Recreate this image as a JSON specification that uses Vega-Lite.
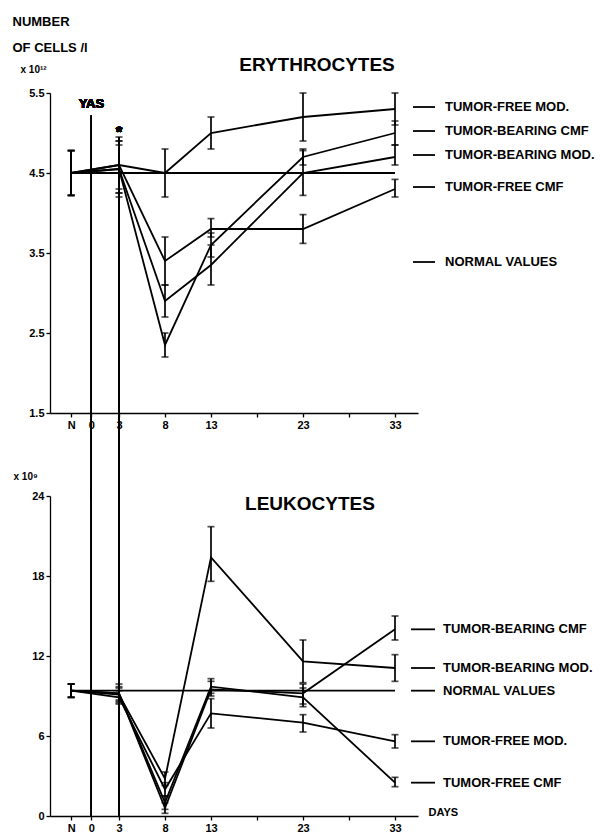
{
  "$schema": "https://vega.github.io/schema/vega-lite/v6.json",
  "background": "white",
  "autosize": {"type": "pad"},
  "padding": {"left": 12, "top": 15, "right": 5, "bottom": 2},
  "bounds": "flush",
  "spacing": 83,
  "config": {
    "font": "Liberation Sans",
    "view": {"stroke": null},
    "axis": {
      "labelFont": "Liberation Sans", "labelFontWeight": "bold", "labelFontSize": 11, "labelColor": "black",
      "domainColor": "black", "domainWidth": 1.3, "tickColor": "black", "tickWidth": 1.3, "tickSize": 4,
      "grid": false, "titleFont": "Liberation Sans", "titleFontWeight": "bold", "titleColor": "black", "labelOverlap": false, "labelFlush": false
    },
    "title": {"color": "black", "fontWeight": "bold", "font": "Liberation Sans"},
    "text": {"font": "Liberation Sans", "fontWeight": "bold", "color": "black"}
  },
  "datasets": {
    "ery": [
      {"series": "TUMOR-FREE MOD.", "day": -2.2, "value": 4.5, "lo": 4.22, "hi": 4.78},
      {"series": "TUMOR-FREE MOD.", "day": 3, "value": 4.6, "lo": 4.3, "hi": 4.9},
      {"series": "TUMOR-FREE MOD.", "day": 8, "value": 4.5, "lo": 4.2, "hi": 4.8},
      {"series": "TUMOR-FREE MOD.", "day": 13, "value": 5.0, "lo": 4.8, "hi": 5.2},
      {"series": "TUMOR-FREE MOD.", "day": 23, "value": 5.2, "lo": 4.9, "hi": 5.5},
      {"series": "TUMOR-FREE MOD.", "day": 33, "value": 5.3, "lo": 5.1, "hi": 5.5},
      {"series": "TUMOR-BEARING CMF", "day": -2.2, "value": 4.5, "lo": 4.22, "hi": 4.78},
      {"series": "TUMOR-BEARING CMF", "day": 3, "value": 4.55, "lo": 4.25, "hi": 4.85},
      {"series": "TUMOR-BEARING CMF", "day": 8, "value": 2.35, "lo": 2.2, "hi": 2.5},
      {"series": "TUMOR-BEARING CMF", "day": 13, "value": 3.6, "lo": 3.45, "hi": 3.75},
      {"series": "TUMOR-BEARING CMF", "day": 23, "value": 4.7, "lo": 4.6, "hi": 4.8},
      {"series": "TUMOR-BEARING CMF", "day": 33, "value": 5.0, "lo": 4.85, "hi": 5.15},
      {"series": "TUMOR-BEARING MOD.", "day": -2.2, "value": 4.5, "lo": 4.22, "hi": 4.78},
      {"series": "TUMOR-BEARING MOD.", "day": 3, "value": 4.55, "lo": 4.2, "hi": 4.9},
      {"series": "TUMOR-BEARING MOD.", "day": 8, "value": 2.9, "lo": 2.7, "hi": 3.1},
      {"series": "TUMOR-BEARING MOD.", "day": 13, "value": 3.35, "lo": 3.1, "hi": 3.6},
      {"series": "TUMOR-BEARING MOD.", "day": 23, "value": 4.5, "lo": 4.22, "hi": 4.78},
      {"series": "TUMOR-BEARING MOD.", "day": 33, "value": 4.7, "lo": 4.6, "hi": 4.85},
      {"series": "TUMOR-FREE CMF", "day": -2.2, "value": 4.5, "lo": 4.22, "hi": 4.78},
      {"series": "TUMOR-FREE CMF", "day": 3, "value": 4.6, "lo": 4.25, "hi": 4.95},
      {"series": "TUMOR-FREE CMF", "day": 8, "value": 3.4, "lo": 3.1, "hi": 3.7},
      {"series": "TUMOR-FREE CMF", "day": 13, "value": 3.8, "lo": 3.7, "hi": 3.93},
      {"series": "TUMOR-FREE CMF", "day": 23, "value": 3.8, "lo": 3.62, "hi": 3.98},
      {"series": "TUMOR-FREE CMF", "day": 33, "value": 4.3, "lo": 4.2, "hi": 4.42},
      {"series": "NORMAL VALUES", "day": -2.2, "value": 4.5},
      {"series": "NORMAL VALUES", "day": 33, "value": 4.5}
    ],
    "leu": [
      {"series": "TUMOR-BEARING CMF", "day": -2.2, "value": 9.4, "lo": 8.9, "hi": 9.9},
      {"series": "TUMOR-BEARING CMF", "day": 3, "value": 9.2, "lo": 8.5, "hi": 9.9},
      {"series": "TUMOR-BEARING CMF", "day": 8, "value": 0.6, "lo": 0.2, "hi": 1.0},
      {"series": "TUMOR-BEARING CMF", "day": 13, "value": 9.5, "lo": 9.0, "hi": 10.1},
      {"series": "TUMOR-BEARING CMF", "day": 23, "value": 9.2, "lo": 8.4, "hi": 9.9},
      {"series": "TUMOR-BEARING CMF", "day": 33, "value": 14.0, "lo": 13.2, "hi": 15.0},
      {"series": "TUMOR-BEARING MOD.", "day": -2.2, "value": 9.4, "lo": 8.9, "hi": 9.9},
      {"series": "TUMOR-BEARING MOD.", "day": 3, "value": 9.1, "lo": 8.6, "hi": 9.6},
      {"series": "TUMOR-BEARING MOD.", "day": 8, "value": 2.8, "lo": 2.3, "hi": 3.3},
      {"series": "TUMOR-BEARING MOD.", "day": 13, "value": 19.4, "lo": 17.6, "hi": 21.7},
      {"series": "TUMOR-BEARING MOD.", "day": 23, "value": 11.6, "lo": 10.0, "hi": 13.2},
      {"series": "TUMOR-BEARING MOD.", "day": 33, "value": 11.1, "lo": 10.1, "hi": 12.1},
      {"series": "TUMOR-FREE MOD.", "day": -2.2, "value": 9.4, "lo": 8.9, "hi": 9.9},
      {"series": "TUMOR-FREE MOD.", "day": 3, "value": 8.9, "lo": 8.4, "hi": 9.4},
      {"series": "TUMOR-FREE MOD.", "day": 8, "value": 2.0, "lo": 1.5, "hi": 2.5},
      {"series": "TUMOR-FREE MOD.", "day": 13, "value": 7.7, "lo": 6.6, "hi": 8.8},
      {"series": "TUMOR-FREE MOD.", "day": 23, "value": 7.0, "lo": 6.3, "hi": 7.6},
      {"series": "TUMOR-FREE MOD.", "day": 33, "value": 5.6, "lo": 5.1, "hi": 6.1},
      {"series": "TUMOR-FREE CMF", "day": -2.2, "value": 9.4, "lo": 8.9, "hi": 9.9},
      {"series": "TUMOR-FREE CMF", "day": 3, "value": 9.2, "lo": 8.7, "hi": 9.7},
      {"series": "TUMOR-FREE CMF", "day": 8, "value": 1.0, "lo": 0.5, "hi": 1.5},
      {"series": "TUMOR-FREE CMF", "day": 13, "value": 9.7, "lo": 9.2, "hi": 10.3},
      {"series": "TUMOR-FREE CMF", "day": 23, "value": 8.9, "lo": 8.2, "hi": 9.6},
      {"series": "TUMOR-FREE CMF", "day": 33, "value": 2.5, "lo": 2.2, "hi": 2.9},
      {"series": "NORMAL VALUES", "day": -2.2, "value": 9.4},
      {"series": "NORMAL VALUES", "day": 33, "value": 9.4}
    ]
  },
  "vconcat": [
    {
      "width": 368,
      "height": 320,
      "data": {"name": "ery"},
      "title": {"text": "ERYTHROCYTES", "fontSize": 19, "anchor": "middle", "dx": 83, "offset": 0, "dy": 69, "baseline": "middle"},
      "encoding": {
        "x": {"field": "day", "type": "quantitative", "scale": {"domain": [-4.5, 35.5], "nice": false, "zero": false},
          "axis": {"title": ["NUMBER", "OF CELLS /l"], "titleFontSize": 13, "titleLineHeight": 26, "titleAlign": "left", "titleBaseline": "top", "titleX": -38, "titleY": -398,
            "values": [-2.2, 0, 3, 8, 13, 18, 23, 28, 33],
            "labelExpr": "datum.value < -1 ? 'N' : (datum.value == 18 || datum.value == 28) ? '' : datum.label"}},
        "y": {"field": "value", "type": "quantitative", "scale": {"domain": [1.5, 5.5], "nice": false, "zero": false},
          "axis": {"values": [1.5, 2.5, 3.5, 4.5, 5.5], "format": ".1f", "title": "x 10¹²", "titleFontSize": 10, "titleAngle": 0, "titleAlign": "left", "titleBaseline": "middle", "titleX": -30, "titleY": -24}}
      },
      "layer": [
        {"mark": {"type": "rule", "color": "black", "strokeWidth": 1}, "encoding": {"x": {"datum": 0}, "y": {"datum": 5.22}, "y2": {"datum": 0.4}}},
        {"mark": {"type": "rule", "color": "black", "strokeWidth": 1}, "encoding": {"x": {"datum": 3}, "y": {"datum": 4.95}, "y2": {"datum": 0.4}}},
        {"mark": {"type": "text", "text": "YAS", "fontSize": 13, "baseline": "middle"}, "encoding": {"x": {"datum": 0}, "y": {"datum": 5.36}}},
        {"mark": {"type": "text", "text": "*", "fontSize": 17, "baseline": "middle"}, "encoding": {"x": {"datum": 3}, "y": {"datum": 5.0}}},
        {"mark": {"type": "line", "color": "black"},
          "encoding": {"detail": {"field": "series"},
            "strokeWidth": {"field": "series", "type": "ordinal", "legend": null,
              "scale": {"domain": ["TUMOR-FREE MOD.", "TUMOR-BEARING CMF", "TUMOR-BEARING MOD.", "TUMOR-FREE CMF", "NORMAL VALUES"], "range": [1.8, 1.8, 2.6, 2.2, 1.1]}}}},
        {"transform": [{"filter": "datum.series != 'NORMAL VALUES'"}],
          "mark": {"type": "errorbar", "color": "black", "ticks": {"size": 7, "thickness": 1.7}, "rule": {"strokeWidth": 1.7}},
          "encoding": {"y": {"field": "lo", "type": "quantitative"}, "y2": {"field": "hi"}}},
        {"transform": [{"filter": "datum.day == 33 && datum.series != 'NORMAL VALUES'"}],
          "mark": {"type": "rule", "color": "black", "xOffset": 18, "x2Offset": 40, "yOffset": -2, "y2Offset": -2},
          "encoding": {"x2": {"field": "day"}, "y": {"field": "value", "type": "quantitative"},
            "strokeWidth": {"field": "series", "type": "ordinal", "legend": null}}},
        {"transform": [{"filter": "datum.day == 33 && datum.series == 'NORMAL VALUES'"}],
          "mark": {"type": "rule", "color": "black", "xOffset": 18, "x2Offset": 40, "yOffset": 89, "y2Offset": 89},
          "encoding": {"x2": {"field": "day"}, "y": {"field": "value", "type": "quantitative"},
            "strokeWidth": {"field": "series", "type": "ordinal", "legend": null}}},
        {"transform": [{"filter": "datum.day == 33 && datum.series != 'NORMAL VALUES'"}],
          "mark": {"type": "text", "align": "left", "baseline": "middle", "dx": 50, "dy": -2, "fontSize": 13},
          "encoding": {"text": {"field": "series"}}},
        {"transform": [{"filter": "datum.day == 33 && datum.series == 'NORMAL VALUES'"}],
          "mark": {"type": "text", "align": "left", "baseline": "middle", "dx": 50, "dy": 89, "fontSize": 13},
          "encoding": {"text": {"field": "series"}}}
      ]
    },
    {
      "width": 368,
      "height": 320,
      "data": {"name": "leu"},
      "title": {"text": "LEUKOCYTES", "fontSize": 19, "anchor": "middle", "dx": 76, "offset": -4, "dy": 48, "baseline": "middle"},
      "encoding": {
        "x": {"field": "day", "type": "quantitative", "scale": {"domain": [-4.5, 35.5], "nice": false, "zero": false},
          "axis": {"title": "DAYS", "titleFontSize": 11, "titleAlign": "left", "titleBaseline": "middle", "titleX": 378, "titleY": -4,
            "values": [-2.2, 0, 3, 8, 13, 18, 23, 28, 33],
            "labelExpr": "datum.value < -1 ? 'N' : (datum.value == 18 || datum.value == 28) ? '' : datum.label"}},
        "y": {"field": "value", "type": "quantitative", "scale": {"domain": [0, 24], "nice": false},
          "axis": {"values": [0, 6, 12, 18, 24], "title": "x 10⁹", "titleFontSize": 10, "titleAngle": 0, "titleAlign": "left", "titleBaseline": "middle", "titleX": -37, "titleY": -20}}
      },
      "layer": [
        {"mark": {"type": "rule", "color": "black", "strokeWidth": 1}, "encoding": {"x": {"datum": 0}, "y": {"datum": 24.5}, "y2": {"datum": 0}}},
        {"mark": {"type": "rule", "color": "black", "strokeWidth": 1}, "encoding": {"x": {"datum": 3}, "y": {"datum": 24.5}, "y2": {"datum": 0}}},
        {"mark": {"type": "line", "color": "black"},
          "encoding": {"detail": {"field": "series"},
            "strokeWidth": {"field": "series", "type": "ordinal", "legend": null,
              "scale": {"domain": ["TUMOR-FREE MOD.", "TUMOR-BEARING CMF", "TUMOR-BEARING MOD.", "TUMOR-FREE CMF", "NORMAL VALUES"], "range": [1.8, 1.8, 2.6, 2.2, 1.1]}}}},
        {"transform": [{"filter": "datum.series != 'NORMAL VALUES'"}],
          "mark": {"type": "errorbar", "color": "black", "ticks": {"size": 7, "thickness": 1.7}, "rule": {"strokeWidth": 1.7}},
          "encoding": {"y": {"field": "lo", "type": "quantitative"}, "y2": {"field": "hi"}}},
        {"transform": [{"filter": "datum.day == 33"}],
          "mark": {"type": "rule", "color": "black", "xOffset": 16, "x2Offset": 40},
          "encoding": {"x2": {"field": "day"}, "y": {"field": "value", "type": "quantitative"},
            "strokeWidth": {"field": "series", "type": "ordinal", "legend": null}}},
        {"transform": [{"filter": "datum.day == 33"}],
          "mark": {"type": "text", "align": "left", "baseline": "middle", "dx": 48, "fontSize": 13},
          "encoding": {"text": {"field": "series"}}}
      ]
    }
  ]
}
